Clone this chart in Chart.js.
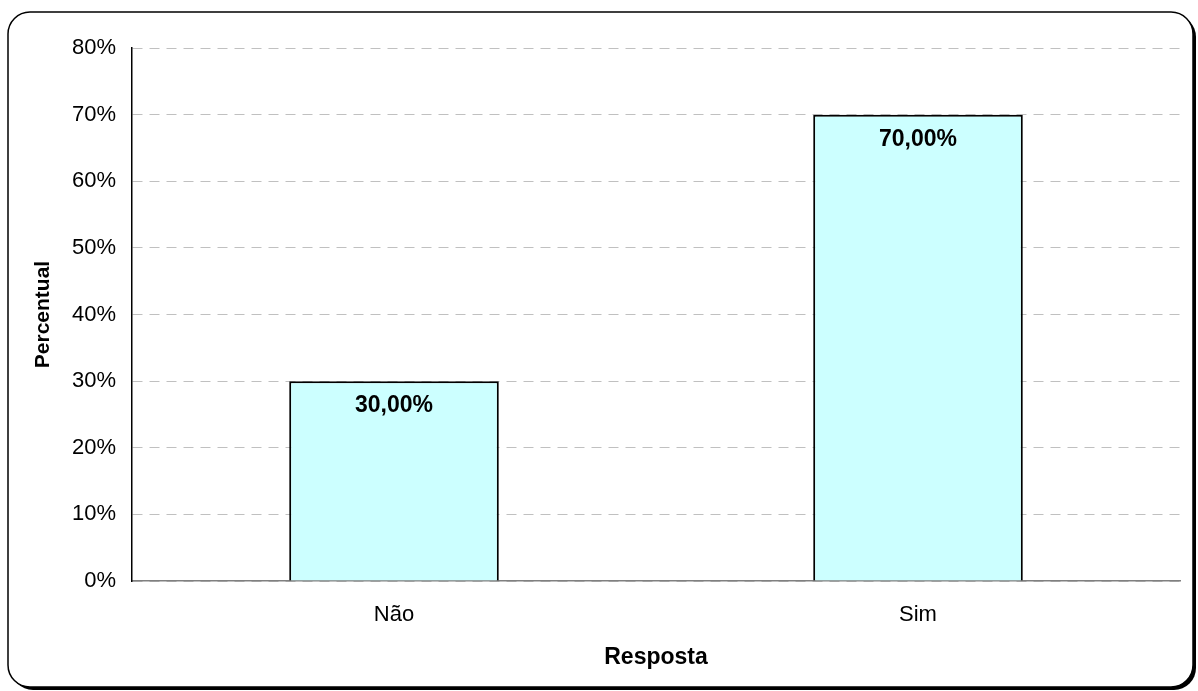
<!DOCTYPE html>
<html>
<head>
<meta charset="utf-8">
<script src="https://cdn.jsdelivr.net/npm/chart.js@4/dist/chart.umd.min.js"></script>
<style>
  html, body { margin: 0; padding: 0; background: #fff; }
  #wrap { width: 1198px; height: 691px; }
</style>
</head>
<body>
<div id="wrap"><canvas id="chart" width="1198" height="691"></canvas></div>
<script>
const categorias = ['Não', 'Sim']
const percentuais = [30, 70]
const rotulos = ['30,00%', '70,00%']

const fonte = "'Liberation Sans', Arial, sans-serif"

// moldura arredondada com sombra, como no Excel
const moldura = {
  id: 'moldura',
  beforeDraw (chart) {
    const ctx = chart.ctx
    const x = 8; const y = 12; const w = 1185; const h = 675; const r = 22
    ctx.save()
    ctx.fillStyle = '#fff'
    ctx.shadowColor = '#000'
    ctx.shadowOffsetX = 3
    ctx.shadowOffsetY = 3
    ctx.shadowBlur = 0
    ctx.beginPath()
    ctx.roundRect(x, y, w, h, r)
    ctx.fill()
    ctx.shadowColor = 'transparent'
    ctx.lineWidth = 1.5
    ctx.strokeStyle = '#000'
    ctx.stroke()
    ctx.restore()
  }
}

// valores escritos dentro do topo de cada barra
const valores = {
  id: 'valores',
  afterDatasetsDraw (chart) {
    const ctx = chart.ctx
    const meta = chart.getDatasetMeta(0)
    ctx.save()
    ctx.font = 'bold 23px ' + fonte
    ctx.fillStyle = '#000'
    ctx.textAlign = 'center'
    ctx.textBaseline = 'middle'
    meta.data.forEach((bar, i) => {
      ctx.fillText(rotulos[i], bar.x, bar.y + 25)
    })
    ctx.restore()
  }
}

// eslint-disable-next-line no-new
new Chart(
  document.getElementById('chart'),
  {
    type: 'bar',
    data: {
      labels: categorias,
      datasets: [{
        data: percentuais,
        backgroundColor: '#ccffff',
        borderColor: '#000',
        borderWidth: 2,
        barPercentage: 0.4,
        categoryPercentage: 1
      }]
    },
    options: {
      responsive: false,
      animation: false,
      layout: { padding: { left: 22, right: 18, top: 48, bottom: 20 } },
      plugins: {
        legend: { display: false },
        tooltip: { enabled: false }
      },
      scales: {
        x: {
          grid: { display: false, drawTicks: false },
          border: { display: true, color: '#808080', width: 1.5 },
          ticks: { color: '#000', font: { family: fonte, size: 22 }, padding: 21 },
          title: {
            display: true,
            text: 'Resposta',
            color: '#000',
            font: { family: fonte, size: 23, weight: 'bold' },
            padding: { top: 0, bottom: 0 }
          },
          afterFit (scale) { scale.height = 90 }
        },
        y: {
          min: 0,
          max: 80,
          ticks: {
            stepSize: 10,
            color: '#000',
            font: { family: fonte, size: 22 },
            padding: 16,
            callback: v => v + '%'
          },
          grid: {
            color: '#c0c0c0',
            lineWidth: 1,
            drawTicks: false
          },
          border: { display: true, color: '#000', width: 1.5, dash: [10, 7] },
          title: {
            display: true,
            text: 'Percentual',
            color: '#000',
            font: { family: fonte, size: 21, weight: 'bold' },
            padding: { top: 9, bottom: 0 }
          },
          afterFit (scale) { scale.width = 110 }
        }
      }
    },
    plugins: [moldura, valores]
  }
)
</script>
</body>
</html>
